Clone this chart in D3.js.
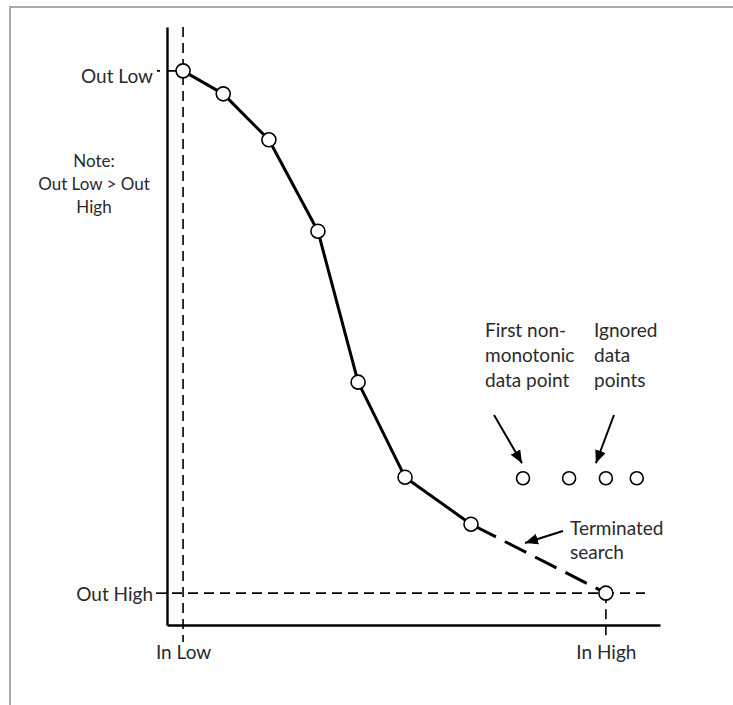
<!DOCTYPE html>
<html>
<head>
<meta charset="utf-8">
<script src="https://cdn.jsdelivr.net/npm/d3@7"></script>
<style>
  body { margin: 0; background: #fff; }
  text { font-family: Lato, "Open Sans", sans-serif; fill: #2a2a2a; }
</style>
</head>
<body>
<script>
// input runs 0 (In Low) .. 100 (In High), output 0 (Out High) .. 100 (Out Low)
const xTicks = [0, 100];
const xTickLabels = ["In Low", "In High"];
const yTicks = [100, 0];
const yTickLabels = ["Out Low", "Out High"];

// points accepted by the search (solid part of the curve)
const curveX = [0, 9.5, 20.3, 31.9, 41.4, 52.5, 68.1];
const curveY = [100, 95.6, 86.8, 69.3, 40.4, 22.2, 13.2];
// end of the curve after the search stopped
const endX = [68.1, 100];
const endY = [13.2, 0];
// first non-monotonic point and the ignored ones after it
const strayX = [80.4, 91.3, 100, 107.3];
const strayY = [22, 22, 22, 22];

const W = 733, H = 705;
const FONT = "Lato, 'Open Sans', sans-serif";
const FS = 19;

const svg = d3.select("body").append("svg")
  .attr("width", W)
  .attr("height", H);

// grey frame, top and left only
svg.append("path")
  .attr("d", "M10,705 L10,7 L733,7")
  .attr("fill", "none")
  .attr("stroke", "#a9a9a9")
  .attr("stroke-width", 2);

const x = d3.scaleLinear().domain([-3.8, 112.8]).range([167, 660]);
const y = d3.scaleLinear().domain([-6.1, 108.4]).range([625, 27]);

const defs = svg.append("defs");
defs.append("marker")
  .attr("id", "head")
  .attr("viewBox", "0 0 10 10")
  .attr("refX", 10)
  .attr("refY", 5)
  .attr("markerWidth", 6.5)
  .attr("markerHeight", 5.5)
  .attr("markerUnits", "strokeWidth")
  .attr("orient", "auto")
  .attr("preserveAspectRatio", "none")
  .append("path")
  .attr("d", "M0,0 L10,5 L0,10 Z")
  .attr("fill", "#000");

// dashed guides
const dash = "10,6";
svg.append("line")
  .attr("x1", x(0)).attr("x2", x(0))
  .attr("y1", y(108.4)).attr("y2", 642)
  .attr("stroke", "#000").attr("stroke-width", 1.6)
  .attr("stroke-dasharray", dash);
svg.append("line")
  .attr("x1", x(100)).attr("x2", x(100))
  .attr("y1", y(0)).attr("y2", 637)
  .attr("stroke", "#000").attr("stroke-width", 1.6)
  .attr("stroke-dasharray", dash);
svg.append("line")
  .attr("x1", 157).attr("x2", x(0))
  .attr("y1", y(100)).attr("y2", y(100))
  .attr("stroke", "#000").attr("stroke-width", 1.6)
  .attr("stroke-dasharray", "3,7,10,6");
svg.append("line")
  .attr("x1", x(-3.8)).attr("x2", 645)
  .attr("y1", y(0)).attr("y2", y(0))
  .attr("stroke", "#000").attr("stroke-width", 1.6)
  .attr("stroke-dasharray", dash)
  .attr("stroke-dashoffset", -5);

// axes
const xAxis = svg.append("g")
  .attr("transform", `translate(0,${y(-6.1)})`)
  .call(d3.axisBottom(x)
    .tickValues(xTicks)
    .tickSize(0)
    .tickSizeOuter(0)
    .tickPadding(21)
    .tickFormat((d, i) => xTickLabels[i]));

const yAxis = svg.append("g")
  .attr("transform", `translate(${x(-3.8)},0)`)
  .call(d3.axisLeft(y)
    .tickValues(yTicks)
    .tickSize(0)
    .tickSizeOuter(0)
    .tickPadding(14)
    .tickFormat((d, i) => yTickLabels[i]));

[xAxis, yAxis].forEach(g => {
  g.select(".domain").attr("stroke", "#000").attr("stroke-width", 2.4);
  g.selectAll("text").attr("font-size", FS).attr("fill", "#2a2a2a")
    .attr("font-family", FONT);
});
yAxis.selectAll("text").attr("dy", (d, i) => i === 0 ? 12 : 7);

// solid tick at Out High
svg.append("line")
  .attr("x1", 156).attr("x2", x(-3.8))
  .attr("y1", y(0)).attr("y2", y(0))
  .attr("stroke", "#000").attr("stroke-width", 1.6);

// curve
const curve = curveX.map((d, i) => [x(d), y(curveY[i])]);
svg.append("path")
  .attr("d", d3.line()(curve))
  .attr("fill", "none")
  .attr("stroke", "#000")
  .attr("stroke-width", 3)
  .attr("stroke-linejoin", "round");

const tail = endX.map((d, i) => [x(d), y(endY[i])]);
svg.append("path")
  .attr("d", d3.line()(tail))
  .attr("fill", "none")
  .attr("stroke", "#000")
  .attr("stroke-width", 3)
  .attr("stroke-dasharray", "24,10")
  .attr("stroke-dashoffset", -4);

const pts = curve.concat([tail[1]]);
svg.selectAll("circle.pt")
  .data(pts)
  .join("circle")
  .attr("class", "pt")
  .attr("cx", d => d[0])
  .attr("cy", d => d[1])
  .attr("r", 7)
  .attr("fill", "#fff")
  .attr("stroke", "#000")
  .attr("stroke-width", 1.6);

svg.selectAll("circle.stray")
  .data(strayX)
  .join("circle")
  .attr("class", "stray")
  .attr("cx", d => x(d))
  .attr("cy", (d, i) => y(strayY[i]))
  .attr("r", 6.5)
  .attr("fill", "#fff")
  .attr("stroke", "#000")
  .attr("stroke-width", 1.6);

// annotations
function lines(xp, y0, step, rows, anchor, size) {
  const t = svg.append("text")
    .attr("font-size", size)
    .attr("text-anchor", anchor);
  rows.forEach((r, i) => {
    t.append("tspan").attr("x", xp).attr("y", y0 + i * step).text(r);
  });
}

lines(94, 167, 23, ["Note:", "Out Low > Out", "High"], "middle", 17);
lines(485, 337, 25, ["First non-", "monotonic", "data point"], "start", FS);
lines(594, 337, 25, ["Ignored", "data", "points"], "start", FS);
lines(570, 535, 24, ["Terminated", "search"], "start", FS);

function arrow(x1, y1, x2, y2) {
  svg.append("line")
    .attr("x1", x1).attr("y1", y1)
    .attr("x2", x2).attr("y2", y2)
    .attr("stroke", "#000")
    .attr("stroke-width", 2)
    .attr("marker-end", "url(#head)");
}
arrow(494, 415, x(strayX[0]) - 1, y(strayY[0]) - 15);
arrow(614, 415, x(strayX[2]) - 10, y(strayY[2]) - 15);
arrow(563, 531, 525, 543);
</script>
</body>
</html>
